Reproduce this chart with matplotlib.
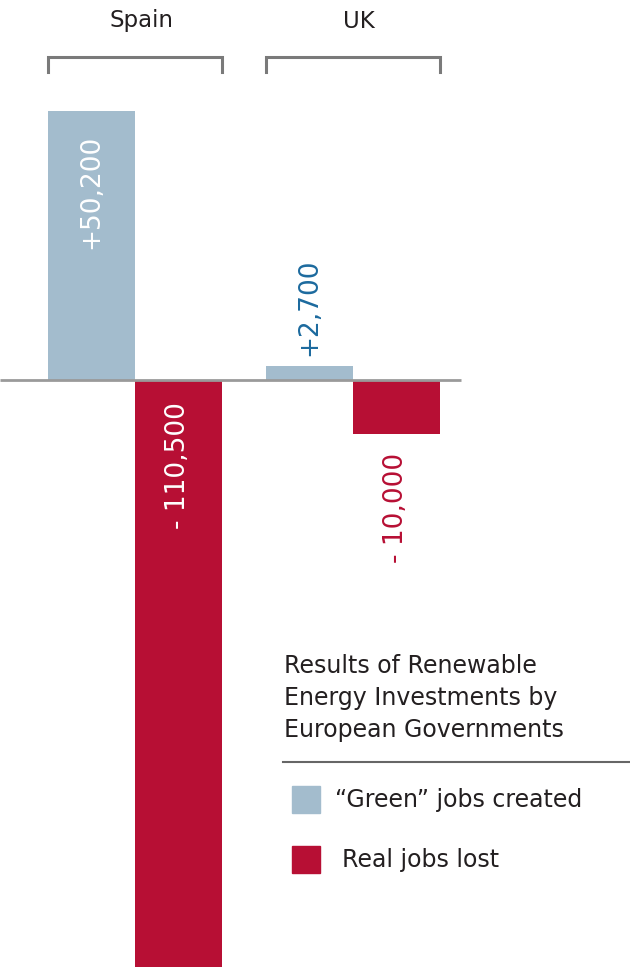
import numpy as np
import matplotlib.pyplot as plt
from matplotlib import transforms

countries = ["Spain", "UK"]
green_jobs = [50200, 2700]
lost_jobs = [-110500, -10000]
green_labels = ["+50,200", "+2,700"]
lost_labels = ["- 110,500", "- 10,000"]

title = "Results of Renewable\nEnergy Investments by\nEuropean Governments"
legend_items = ["\u201cGreen\u201d jobs created", "Real jobs lost"]

blue = "#a3bccd"
red = "#b70f34"
blue_txt = "#1c6a9e"
dark = "#231f20"

plt.rcParams['font.family'] = ['DejaVu Sans']

W, H = 630, 967
fig = plt.figure(figsize=(W / 100, H / 100), dpi=100)
ax = fig.add_axes([0, 0, 1, 1])
ax.axis('off')

px_per_job = 0.00536
ax.set_xlim(-135 / 217.5, (W - 135) / 217.5)
ax.set_ylim(-(H - 380) / px_per_job, 380 / px_per_job)

x = np.arange(len(countries))
w = 0.4
ax.bar(x - w / 2, green_jobs, width=w, color=blue, zorder=2)
ax.bar(x + w / 2, lost_jobs, width=w, color=red, zorder=2)

# zero line
ax.plot([ax.get_xlim()[0], x[-1] + 0.5], [0, 0], color="#9a9a9a", lw=2, zorder=3,
        solid_capstyle='butt')

fs = 19
# bar labels
ax.annotate(green_labels[0], (x[0] - w / 2, green_jobs[0]), xytext=(0, -17),
            textcoords='offset points', rotation=90, ha='center', va='top',
            color='white', fontsize=fs)
ax.annotate(green_labels[1], (x[1] - w / 2, green_jobs[1]), xytext=(0, 7),
            textcoords='offset points', rotation=90, ha='center', va='bottom',
            color=blue_txt, fontsize=fs)
ax.annotate(lost_labels[0], (x[0] + w / 2, 0), xytext=(0, -16),
            textcoords='offset points', rotation=90, ha='center', va='top',
            color='white', fontsize=fs)
ax.annotate(lost_labels[1], (x[1] + w / 2, lost_jobs[1]), xytext=(0, -14),
            textcoords='offset points', rotation=90, ha='center', va='top',
            color=red, fontsize=fs)

# country brackets
tr = transforms.blended_transform_factory(ax.transData, ax.transAxes)
y_top = 1 - 57 / H
y_bot = 1 - 72 / H
for xi, name in zip(x, countries):
    xl, xr = xi - w, xi + w
    ax.plot([xl, xl, xr, xr], [y_bot, y_top, y_top, y_bot], transform=tr,
            color="#7a7a7a", lw=2.2, clip_on=False, solid_joinstyle='miter')
    ax.text(xi + 0.03, 1 - 21 / H, name, transform=tr, ha='center', va='center',
            fontsize=16.5, color=dark)

# legend block
def fx(px):
    return px / W

def fy(py):
    return 1 - py / H

fig.text(fx(284), fy(654), title, ha='left', va='top', fontsize=17,
         color=dark, linespacing=1.42)
fig.add_artist(plt.Line2D([fx(283), fx(630)], [fy(762), fy(762)], color="#666666", lw=1.5))
for py, col, lab, tx in [(800, blue, legend_items[0], 335), (860, red, legend_items[1], 342)]:
    fig.add_artist(plt.Rectangle((fx(292), fy(py + 13)), 28 / W, 27 / H, color=col,
                                 transform=fig.transFigure))
    fig.text(fx(tx), fy(py), lab, ha='left', va='center', fontsize=17, color=dark)

fig.savefig("out.png", dpi=100)
